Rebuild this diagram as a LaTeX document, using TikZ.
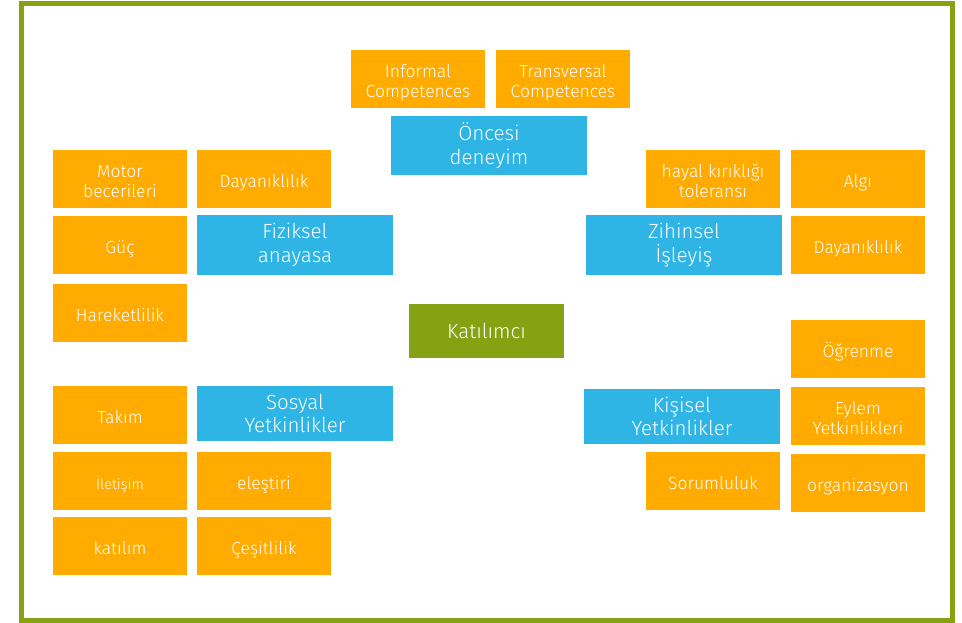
\documentclass[tikz,border=0pt]{standalone}
\usepackage{fontspec}
\setmainfont{Fira Sans Light}
\usepackage{tikz}
\usetikzlibrary{positioning}
\definecolor{boxorange}{RGB}{255,171,0}
\definecolor{boxblue}{RGB}{46,181,230}
\definecolor{boxgreen}{RGB}{134,161,17}

\begin{document}
\begin{tikzpicture}[x=1pt,y=-1pt]
	\path [use as bounding box] (0,0) rectangle (962,623);
	\tikzstyle{leaf} = [fill=boxorange, text=white, align=center, inner sep=0pt, minimum width=134pt, minimum height=58pt, font=\fontsize{17.5}{19.5}\selectfont, text height=17pt, text depth=0pt]
	\tikzstyle{leaftwo} = [leaf, text height=36.5pt]
	\tikzstyle{group} = [fill=boxblue, text=white, align=center, inner sep=0pt, minimum width=196pt, minimum height=59pt, font=\fontsize{20.5}{23.5}\selectfont]
	\tikzstyle{core} = [fill=boxgreen, text=white, inner sep=0pt, minimum width=155pt, minimum height=54pt, font=\fontsize{20.5}{23}\selectfont]
	\draw[boxgreen, line width=5pt] (21,4) rectangle (952,620.5);
	% centre
	\node[core] (katilimci) at (486.5,331) {Katılımcı};
	% top
	\node[leaftwo] (informal) at (418,79) {Informal\\Competences};
	\node[leaftwo] (transversal) at (563,79) {Transversal\\Competences};
	\node[group] (oncesi) at (489,145.5) {Öncesi\\deneyim};
	% left, physical
	\node[leaftwo] (motor) at (120,179) {Motor\\becerileri};
	\node[leaf] (dayanL) at (264,179) {Dayanıklılık};
	\node[leaf] (guc) at (120,245) {Güç};
	\node[leaf] (hareket) at (120,313) {Hareketlilik};
	\node[group, minimum height=60pt] (fiziksel) at (295,245) {Fiziksel\\anayasa};
	% right, mental
	\node[leaftwo] (hayal) at (713,179) {hayal kırıklığı\\toleransı};
	\node[leaf] (algi) at (858,179) {Algı};
	\node[group, minimum height=60pt] (zihinsel) at (684,245) {Zihinsel\\İşleyiş};
	\node[leaf] (dayanR) at (858,245) {Dayanıklılık};
	% right, personal
	\node[leaf] (ogrenme) at (858,349) {Öğrenme};
	\node[group, minimum height=55pt] (kisisel) at (682,416.5) {Kişisel\\Yetkinlikler};
	\node[leaftwo] (eylem) at (858,416) {Eylem\\Yetkinlikleri};
	\node[leaf] (sorum) at (713,481) {Sorumluluk};
	\node[leaf] (organ) at (858,483) {organizasyon};
	% left, social
	\node[leaf] (takim) at (120,415) {Takım};
	\node[group, minimum height=55pt] (sosyal) at (295,413.5) {Sosyal\\Yetkinlikler};
	\node[leaf, font=\fontsize{14.5}{17}\selectfont] (iletisim) at (120,481) {İletişim};
	\node[leaf] (elestiri) at (264,481) {eleştiri};
	\node[leaf] (katilim) at (120,546) {katılım};
	\node[leaf] (cesit) at (264,546) {Çeşitlilik};
\end{tikzpicture}
\end{document}
